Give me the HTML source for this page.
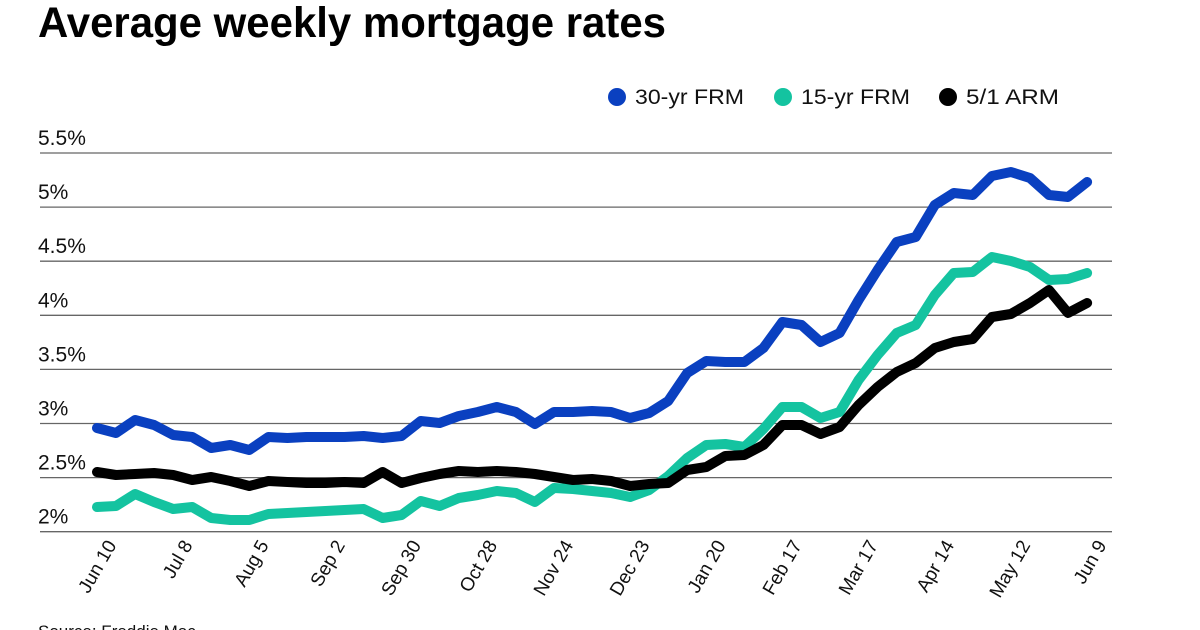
<!DOCTYPE html>
<html><head><meta charset="utf-8"><style>
html,body{margin:0;padding:0;background:#fff;}
svg{display:block;font-family:"Liberation Sans",sans-serif;}
</style></head><body>
<svg id="s" width="1200" height="630" viewBox="0 0 1200 630" xmlns="http://www.w3.org/2000/svg">
<rect width="1200" height="630" fill="#fff"/>
<text x="38" y="37" font-size="43" font-weight="bold" fill="#000" textLength="628" lengthAdjust="spacingAndGlyphs">Average weekly mortgage rates</text>
<circle cx="617" cy="97" r="9" fill="#0a40c0"/>
<text x="635" y="104" font-size="21" fill="#111" textLength="109" lengthAdjust="spacingAndGlyphs">30-yr FRM</text>
<circle cx="783" cy="97" r="9" fill="#14c3a0"/>
<text x="801" y="104" font-size="21" fill="#111" textLength="109" lengthAdjust="spacingAndGlyphs">15-yr FRM</text>
<circle cx="948" cy="97" r="9" fill="#000"/>
<text x="966" y="104" font-size="21" fill="#111" textLength="93" lengthAdjust="spacingAndGlyphs">5/1 ARM</text>
<g id="grid" stroke="#666" stroke-width="1.3"></g>
<g id="ylab" font-size="21" fill="#111"></g>
<g id="lines" fill="none" stroke-width="10" stroke-linejoin="round" stroke-linecap="round"></g>
<g id="xlab" font-size="19" fill="#111"></g>
<text x="38" y="637" font-size="17" fill="#111">Source: Freddie Mac</text>
</svg>
<script>
var NS="http://www.w3.org/2000/svg";
function el(t,a,p,txt){var e=document.createElementNS(NS,t);for(var k in a)e.setAttribute(k,a[k]);if(txt)e.textContent=txt;document.getElementById(p).appendChild(e);}
var labs=["5.5%","5%","4.5%","4%","3.5%","3%","2.5%","2%"];
for(var i=0;i<8;i++){var y=153+i*54.1;el("line",{x1:40,x2:1112,y1:y,y2:y},"grid");el("text",{x:38,y:y-8},"ylab",labs[i]);}
var blue=[428,433,420,425,435,437,448,445,450,437,438,437,437,437,436,438,436,421,423,416,412,407,412,424,412,412,411,412,418,413,401,373,361,362,362,348,322,325,342,333,300,270,242,237,205,193,195,176,172,178,195,197,182];
var teal=[507,506,494,502,509,507,518,520,520,514,513,512,511,510,509,518,515,501,506,498,495,491,493,502,488,489,491,493,497,490,476,458,445,444,447,429,407,407,418,412,380,355,333,325,295,273,272,257,261,267,280,279,273];
var blk=[472,475,474,473,475,480,477,481,486,481,482,483,483,482,483,472,483,478,474,471,472,471,472,474,477,480,479,481,486,484,483,470,467,456,455,445,425,425,434,427,405,387,372,363,348,342,339,317,314,303,290,313,303];
function pts(a){return a.map(function(v,i){return (97+i*19.04).toFixed(1)+","+v;}).join(" ");}
el("polyline",{points:pts(blue),stroke:"#0a40c0"},"lines");
el("polyline",{points:pts(teal),stroke:"#14c3a0"},"lines");
el("polyline",{points:pts(blk),stroke:"#000"},"lines");
var xl=["Jun 10","Jul 8","Aug 5","Sep 2","Sep 30","Oct 28","Nov 24","Dec 23","Jan 20","Feb 17","Mar 17","Apr 14","May 12","Jun 9"];
for(var j=0;j<14;j++){var x=97+j*4*19.04+20;el("text",{x:x,y:545,"text-anchor":"end",transform:"rotate(-60 "+x+" 545)"},"xlab",xl[j]);}
</script>
</body></html>
